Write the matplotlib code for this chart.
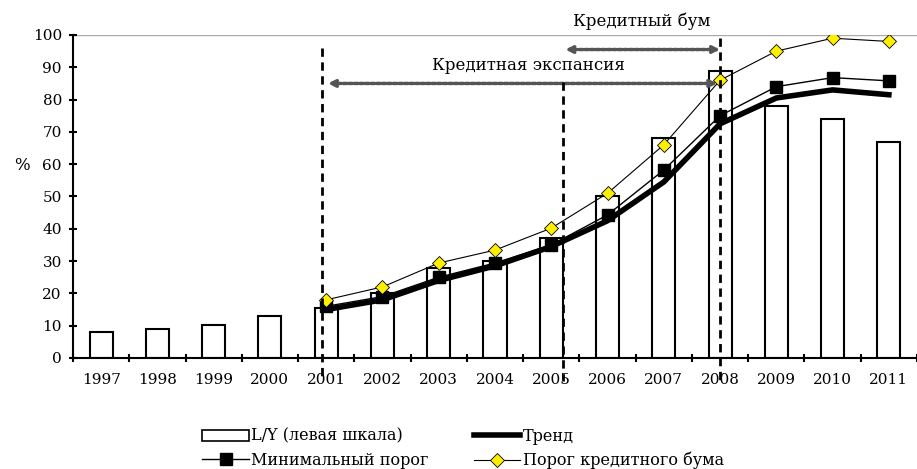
import numpy as np
import matplotlib.pyplot as plt
from matplotlib.lines import Line2D
from matplotlib.patches import Patch

plt.rcParams['font.family'] = ['DejaVu Serif']

years = [str(y) for y in range(1997, 2012)]
ly_ratio = [8, 9, 10.3, 13, 15.5, 20, 28, 30, 37, 50, 68, 89, 78, 74, 67]
# threshold series start in 2001
thr_years = years[4:]
trend = [15, 18, 24, 28.5, 34.5, 42.5, 54.5, 72.5, 80.5, 83, 81.5]
min_thr = [16, 19, 25, 29.4, 35, 44.3, 58.2, 75, 84, 86.8, 85.8]
boom_thr = [18, 22, 29.4, 33.4, 40.2, 51, 66, 86, 95, 99, 98]

x = np.arange(len(years))
xt = x[4:]

fig = plt.figure(figsize=(9.17, 4.69), dpi=100)
ax = fig.add_axes([0.0796, 0.2367, 0.9204, 0.6887])

ax.bar(x, ly_ratio, width=0.41, color='white', edgecolor='black', linewidth=1.5, zorder=2)
ax.plot(xt, trend, color='black', linewidth=4, zorder=3)
ax.plot(xt, min_thr, color='black', linewidth=1, marker='s', markersize=9, zorder=4)
ax.plot(xt, boom_thr, color='black', linewidth=0.8, marker='D', markersize=7,
        markerfacecolor='#ffee00', markeredgecolor='black', markeredgewidth=0.6, zorder=5)

ax.set_xlim(-0.5, len(years) - 0.5)
ax.set_ylim(0, 100)
ax.set_yticks(range(0, 101, 10))
ax.set_xticks(x)
ax.set_xticklabels(years, fontsize=11)
ax.set_xticks(np.arange(-0.5, len(years), 1), minor=True)
ax.tick_params(axis='x', which='major', length=0, pad=11)
ax.tick_params(axis='x', which='minor', length=6, width=1.5, direction='inout')
ax.tick_params(axis='y', length=6, width=1.5, direction='inout', labelsize=11, pad=5)
ax.set_ylabel('%', rotation=0, fontsize=12)
ax.yaxis.set_label_coords(-0.06, 0.57)

for s in ['top', 'right']:
    ax.spines[s].set_visible(False)
ax.spines['left'].set_linewidth(1.5)
ax.spines['bottom'].set_linewidth(1.5)
ax.axhline(100, color='#aaaaaa', linewidth=1, zorder=1)

# period markers
for xv, ytop in [(3.93, 96), (8.2, 85.5), (11.0, 99)]:
    ax.plot([xv, xv], [ytop, -7], color='black', linestyle=(0, (3, 2)), linewidth=2,
            clip_on=False, zorder=6)

arrow_style = dict(arrowstyle='<->', color='#555555', lw=2.5, linestyle=(0, (1, 0.6)))
ax.annotate('', xy=(3.98, 85), xytext=(11.0, 85), arrowprops=arrow_style)
ax.text(7.6, 88, 'Кредитная экспансия', ha='center', va='bottom', fontsize=12)
ax.annotate('', xy=(8.2, 95.5), xytext=(11.05, 95.5), arrowprops=arrow_style,
            annotation_clip=False)
ax.text(9.6, 101.5, 'Кредитный бум', ha='center', va='bottom', fontsize=12)

handles = [
    Patch(facecolor='white', edgecolor='black', linewidth=1.2),
    Line2D([], [], color='black', linewidth=1, marker='s', markersize=9),
    Line2D([], [], color='black', linewidth=4),
    Line2D([], [], color='black', linewidth=0.8, marker='D', markersize=7,
           markerfacecolor='#ffee00', markeredgecolor='black', markeredgewidth=0.6),
]
labels = ['L/Y (левая шкала)', 'Минимальный порог', 'Тренд', 'Порог кредитного бума']
fig.legend(handles, labels, ncol=2, loc='upper left', bbox_to_anchor=(0.212, 0.105),
           frameon=False, fontsize=11.5, handlelength=2.9, handletextpad=0.15,
           columnspacing=2.85, labelspacing=0.45, borderpad=0)

fig.savefig('out.png', dpi=100)
